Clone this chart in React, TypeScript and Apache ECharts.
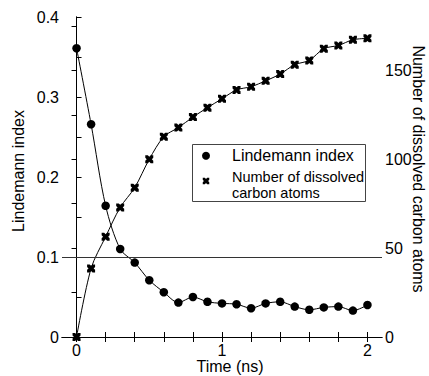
import React, { useEffect, useRef } from "react";
import * as echarts from "echarts";

const times = [0, 0.1, 0.2, 0.3, 0.4, 0.5, 0.6, 0.7, 0.8, 0.9, 1.0, 1.1, 1.2, 1.3, 1.4, 1.5, 1.6, 1.7, 1.8, 1.9, 2.0];
const lindemann = [0.361, 0.266, 0.164, 0.110, 0.093, 0.071, 0.056, 0.043, 0.050, 0.044, 0.042, 0.041, 0.036, 0.042, 0.044, 0.038, 0.034, 0.037, 0.038, 0.033, 0.040];
const carbonAtoms = [0, 38.6, 56.4, 72.9, 84, 100, 112.7, 117.8, 123.7, 129, 134, 139, 140.8, 144.1, 147.9, 153.2, 155.6, 162.2, 164, 167.2, 168];

const xLabels = [0, 1, 2];
const xTicks = [0, 0.2, 0.4, 0.6, 0.8, 1.0, 1.2, 1.4, 1.6, 1.8, 2.0];
const leftLabels = [0, 0.1, 0.2, 0.3, 0.4];
const leftTicks = [0, 0.05, 0.1, 0.15, 0.2, 0.25, 0.3, 0.35, 0.4];
const rightLabels = [0, 50, 100, 150];
const rightTicks = [0, 25, 50, 75, 100, 125, 150, 175];
const thresholdValue = 0.1;

const seriesNames = ["Lindemann index", "Number of dissolved\ncarbon atoms"];
const axisTitles = ["Time (ns)", "Lindemann index", "Number of dissolved carbon atoms"];

const FONT = "Liberation Sans, Arial, sans-serif";
const CROSS = "path://M0,0 L3.2,0 L5,1.8 L6.8,0 L10,0 L10,3.2 L8.2,5 L10,6.8 L10,10 L6.8,10 L5,8.2 L3.2,10 L0,10 L0,6.8 L1.8,5 L0,3.2 Z";

function crossPoints(cx: number, cy: number, s: number): number[][] {
  const base = [
    [0, 0], [3.2, 0], [5, 1.8], [6.8, 0], [10, 0], [10, 3.2], [8.2, 5], [10, 6.8],
    [10, 10], [6.8, 10], [5, 8.2], [3.2, 10], [0, 10], [0, 6.8], [1.8, 5], [0, 3.2],
  ];
  return base.map(([px, py]) => [cx + ((px - 5) * s) / 10, cy + ((py - 5) * s) / 10]);
}

export default function App() {
  const ref = useRef<HTMLDivElement>(null);
  useEffect(() => {
    if (!ref.current) return;
    const chart = echarts.init(ref.current, null, { renderer: "svg" });
    const labelStyle = { color: "#000", fontSize: 16, fontFamily: FONT };
    const axisLine = { show: true, lineStyle: { color: "#000", width: 1 } };
    chart.setOption({
      animation: false,
      backgroundColor: "#fff",
      grid: { left: 62, right: 47, top: 17, bottom: 39, containLabel: false },
      xAxis: [
        {
          type: "value",
          min: -0.1,
          max: 2.1,
          position: "bottom",
          axisLine,
          splitLine: { show: false },
          axisTick: { show: true, inside: true, length: 5, customValues: xTicks, lineStyle: { color: "#000" } },
          axisLabel: { ...labelStyle, margin: 5, customValues: xLabels, formatter: (v: number) => String(v) },
        },
        {
          type: "value",
          min: -0.1,
          max: 2.1,
          position: "top",
          axisLine,
          splitLine: { show: false },
          axisTick: { show: true, inside: true, length: 5, customValues: xTicks, lineStyle: { color: "#000" } },
          axisLabel: { show: false },
        },
      ],
      yAxis: [
        {
          type: "value",
          min: 0,
          max: 0.4,
          position: "left",
          axisLine,
          splitLine: { show: false },
          axisTick: { show: true, inside: true, length: 5, customValues: leftTicks, lineStyle: { color: "#000" } },
          axisLabel: { ...labelStyle, margin: 3, customValues: leftLabels, formatter: (v: number) => (v === 0 ? "0" : String(v)) },
        },
        {
          type: "value",
          min: 0,
          max: 180,
          position: "right",
          axisLine,
          splitLine: { show: false },
          axisTick: { show: true, inside: true, length: 5, customValues: rightTicks, lineStyle: { color: "#000" } },
          axisLabel: { ...labelStyle, margin: 3, customValues: rightLabels },
        },
      ],
      series: [
        {
          name: seriesNames[0],
          type: "line",
          xAxisIndex: 0,
          yAxisIndex: 0,
          data: times.map((t, i) => [t, lindemann[i]]),
          smooth: 0.3,
          symbol: "circle",
          symbolSize: 8.5,
          itemStyle: { color: "#000" },
          lineStyle: { color: "#000", width: 1 },
          markLine: {
            silent: true,
            symbol: "none",
            label: { show: false },
            lineStyle: { color: "#333", width: 1, type: "solid" },
            data: [{ yAxis: thresholdValue }],
          },
        },
        {
          name: seriesNames[1],
          type: "line",
          xAxisIndex: 0,
          yAxisIndex: 1,
          data: times.map((t, i) => [t, carbonAtoms[i]]),
          smooth: 0.3,
          symbol: CROSS,
          symbolSize: 8,
          itemStyle: { color: "#000" },
          lineStyle: { color: "#000", width: 1 },
        },
      ],
      graphic: [
        {
          type: "text",
          x: 18,
          y: 171,
          rotation: Math.PI / 2,
          style: { text: axisTitles[1], fontSize: 16, fontFamily: FONT, fill: "#000", align: "center", verticalAlign: "middle" },
        },
        {
          type: "text",
          x: 418,
          y: 169,
          rotation: -Math.PI / 2,
          style: { text: axisTitles[2], fontSize: 16, fontFamily: FONT, fill: "#000", align: "center", verticalAlign: "middle" },
        },
        {
          type: "text",
          x: 230,
          y: 366,
          style: { text: axisTitles[0], fontSize: 16, fontFamily: FONT, fill: "#000", align: "center", verticalAlign: "middle" },
        },
        {
          type: "rect",
          shape: { x: 192.5, y: 144.5, width: 173, height: 57 },
          style: { fill: "#fff", stroke: "#444", lineWidth: 1 },
          z: 10,
        },
        {
          type: "circle",
          shape: { cx: 206, cy: 155.7, r: 4 },
          style: { fill: "#000" },
          z: 11,
        },
        {
          type: "polygon",
          shape: { points: crossPoints(206, 181, 6.5) },
          style: { fill: "#000" },
          z: 11,
        },
        {
          type: "text",
          x: 232,
          y: 155.5,
          style: { text: seriesNames[0], fontSize: 16, fontFamily: FONT, fill: "#000", align: "left", verticalAlign: "middle" },
          z: 11,
        },
        {
          type: "text",
          x: 232,
          y: 185,
          style: { text: seriesNames[1], fontSize: 14.5, lineHeight: 15.5, fontFamily: FONT, fill: "#000", align: "left", verticalAlign: "middle" },
          z: 11,
        },
      ],
    });
    return () => chart.dispose();
  }, []);
  return <div ref={ref} style={{ position: "fixed", left: 0, top: 0, width: 429, height: 376 }} />;
}
